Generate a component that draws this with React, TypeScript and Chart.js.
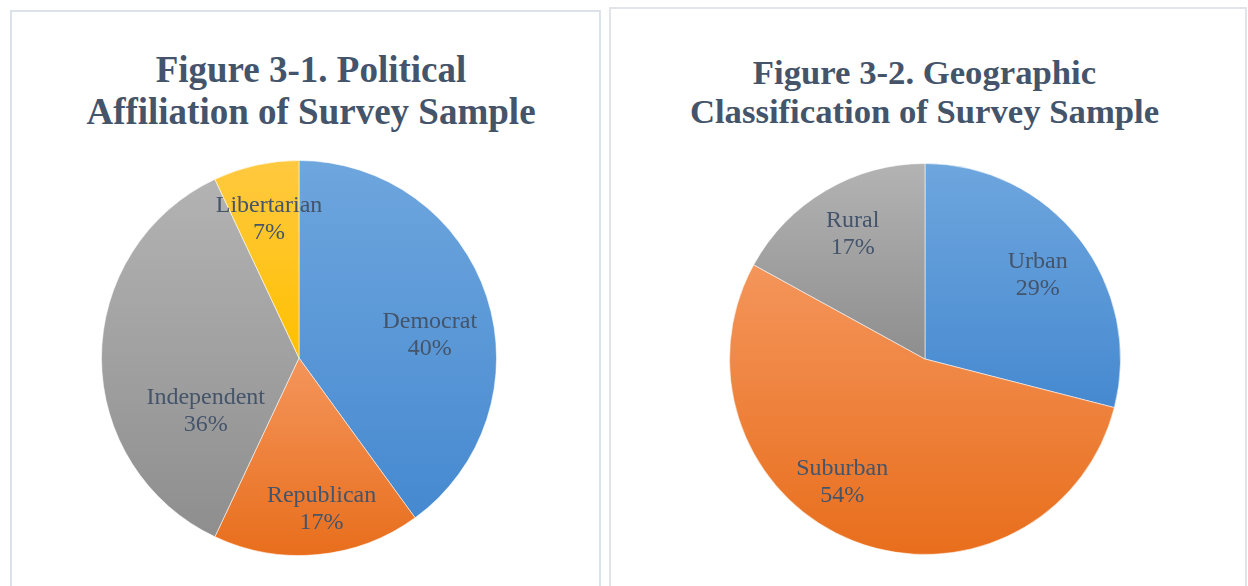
import React, { useEffect, useRef } from "react";
import { Chart, registerables } from "chart.js";

Chart.register(...registerables);

// ---------- data ----------
const politicalTitle = ["Figure 3-1. Political", "Affiliation of Survey Sample"];
const politicalCategories = ["Democrat", "Republican", "Independent", "Libertarian"];
const politicalValues = [40, 17, 36, 7];

const geographicTitle = ["Figure 3-2. Geographic", "Classification of Survey Sample"];
const geographicCategories = ["Urban", "Suburban", "Rural"];
const geographicValues = [29, 54, 17];

// ---------- styles ----------
const SLICE_TOP = ["#6EA6DE", "#F4955B", "#B3B3B3", "#FFC940"];
const SLICE_BOTTOM = ["#4689D0", "#E86E1C", "#8E8E8E", "#FFC000"];
const TEXT_COLOR = "#44546A";
const SERIF = '"Liberation Serif", "Times New Roman", serif';

// label placement: fraction of radius, angular shift (deg) from slice middle
const politicalLabelRadius = [0.674, 0.764, 0.539, 0.73];
const politicalLabelShift = [7.2, -3.2, -28.8, 0.6];
const geographicLabelRadius = [0.726, 0.751, 0.746];
const geographicLabelShift = [0.4, 12.7, 0.9];

function sliceGradient(ctx: any) {
  const i = ctx.dataIndex ?? 0;
  const chart = ctx.chart;
  const area = chart.chartArea;
  if (!area) return SLICE_BOTTOM[i % SLICE_BOTTOM.length];
  const values: number[] = chart.data.datasets[0].data as number[];
  const total = values.reduce((a, b) => a + b, 0);
  let cum = 0;
  for (let k = 0; k < i; k++) cum += values[k];
  const a0 = -Math.PI / 2 + (2 * Math.PI * cum) / total;
  const a1 = -Math.PI / 2 + (2 * Math.PI * (cum + values[i])) / total;
  const cx = (area.left + area.right) / 2;
  const cy = (area.top + area.bottom) / 2;
  const R = Math.min(area.right - area.left, area.bottom - area.top) / 2;
  const ys = [cy, cy + R * Math.sin(a0), cy + R * Math.sin(a1)];
  for (const ext of [-Math.PI / 2, Math.PI / 2, (3 * Math.PI) / 2]) {
    if (ext >= a0 && ext <= a1) ys.push(cy + R * Math.sin(ext));
  }
  const top = Math.min(...ys);
  const bottom = Math.max(...ys);
  const g = chart.ctx.createLinearGradient(0, top, 0, bottom);
  g.addColorStop(0, SLICE_TOP[i % SLICE_TOP.length]);
  g.addColorStop(1, SLICE_BOTTOM[i % SLICE_BOTTOM.length]);
  return g;
}

function makeLabelPlugin(radiusFrac: number[], shiftDeg: number[]) {
  return {
    id: "sliceLabels",
    afterDatasetsDraw(chart: any) {
      const meta = chart.getDatasetMeta(0);
      const values: number[] = chart.data.datasets[0].data;
      const labels: string[] = chart.data.labels;
      const total = values.reduce((a, b) => a + b, 0);
      const c = chart.ctx;
      c.save();
      c.font = `24px ${SERIF}`;
      c.fillStyle = TEXT_COLOR;
      c.textAlign = "center";
      c.textBaseline = "middle";
      meta.data.forEach((arc: any, i: number) => {
        const p = arc.getProps(["x", "y", "startAngle", "endAngle", "outerRadius"], true);
        const mid = (p.startAngle + p.endAngle) / 2 + (shiftDeg[i] * Math.PI) / 180;
        const r = p.outerRadius * radiusFrac[i];
        const x = p.x + Math.cos(mid) * r;
        const y = p.y + Math.sin(mid) * r + 2;
        const pct = Math.round((values[i] / total) * 100) + "%";
        c.fillText(labels[i], x, y - 13.5);
        c.fillText(pct, x, y + 13.5);
      });
      c.restore();
    },
  };
}

function PieChart(props: {
  labels: string[];
  values: number[];
  radiusFrac: number[];
  shiftDeg: number[];
  box: React.CSSProperties;
}) {
  const ref = useRef<HTMLCanvasElement>(null);
  useEffect(() => {
    if (!ref.current) return;
    const chart = new Chart(ref.current, {
      type: "pie",
      data: {
        labels: props.labels,
        datasets: [
          {
            data: props.values,
            backgroundColor: sliceGradient as any,
            borderColor: "rgba(255,255,255,0.55)",
            borderWidth: 1,
          },
        ],
      },
      options: {
        animation: false,
        responsive: true,
        maintainAspectRatio: false,
        events: [],
        layout: { padding: 0 },
        plugins: {
          legend: { display: false },
          tooltip: { enabled: false },
          title: { display: false },
        },
      },
      plugins: [makeLabelPlugin(props.radiusFrac, props.shiftDeg)],
    });
    return () => chart.destroy();
  }, []);
  return (
    <div style={{ position: "absolute", ...props.box }}>
      <canvas ref={ref} />
    </div>
  );
}

function Title(props: {
  lines: string[];
  centerX: number;
  top: number;
  size: number;
  lineHeight: number;
}) {
  return (
    <div
      style={{
        position: "absolute",
        left: props.centerX - 320,
        top: props.top,
        width: 640,
        textAlign: "center",
        font: `bold ${props.size}px ${SERIF}`,
        lineHeight: `${props.lineHeight}px`,
        color: TEXT_COLOR,
        whiteSpace: "nowrap",
      }}
    >
      {props.lines.map((l) => (
        <div key={l}>{l}</div>
      ))}
    </div>
  );
}

export default function App() {
  return (
    <div
      style={{
        position: "fixed",
        left: 0,
        top: 0,
        width: 1248,
        height: 586,
        background: "#ffffff",
        overflow: "hidden",
      }}
    >
      <div
        style={{
          position: "absolute",
          left: 10,
          top: 10,
          width: 591,
          height: 620,
          border: "2px solid #DDE2EA",
          boxSizing: "border-box",
        }}
      />
      <div
        style={{
          position: "absolute",
          left: 609,
          top: 7,
          width: 638,
          height: 620,
          border: "2px solid #E1E4E9",
          boxSizing: "border-box",
        }}
      />
      <Title lines={politicalTitle} centerX={311} top={48.5} size={37} lineHeight={42} />
      <Title lines={geographicTitle} centerX={924.5} top={53} size={34.7} lineHeight={39} />
      <PieChart
        labels={politicalCategories}
        values={politicalValues}
        radiusFrac={politicalLabelRadius}
        shiftDeg={politicalLabelShift}
        box={{ left: 101, top: 160, width: 396, height: 396 }}
      />
      <PieChart
        labels={geographicCategories}
        values={geographicValues}
        radiusFrac={geographicLabelRadius}
        shiftDeg={geographicLabelShift}
        box={{ left: 729, top: 163, width: 392, height: 392 }}
      />
    </div>
  );
}
